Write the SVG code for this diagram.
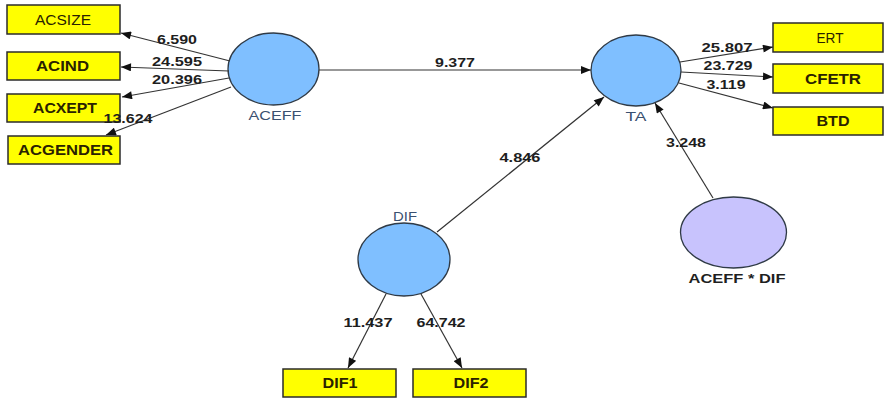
<svg xmlns="http://www.w3.org/2000/svg" width="885" height="403" viewBox="0 0 885 403">
  <style>
    .ind rect { fill: #ffff00; stroke: #2b2b2b; stroke-width: 1.5; }
    .ind text { font-family: "Liberation Sans", Arial, sans-serif; font-size: 14px; fill: #2a2200; text-anchor: middle; }
    .ind text.b { font-weight: bold; }
    .lv ellipse { fill: #7fbfff; stroke: #2f3a46; stroke-width: 1.3; }
    .lv ellipse.mod { fill: #c8c3fd; }
    .lv text { font-family: "Liberation Sans", Arial, sans-serif; font-size: 13px; fill: #3a5070; text-anchor: middle; }
    .lv text.b { font-weight: bold; fill: #1f1f1f; }
    #connectors line { stroke: #333; stroke-width: 1.2; marker-end: url(#arr); }
    #connectors text { font-family: "Liberation Sans", Arial, sans-serif; font-size: 13.5px; font-weight: bold; fill: #1e1e1e; text-anchor: middle; }
  </style>
  <defs>
    <marker id="arr" viewBox="0 0 10 8" refX="10" refY="4" markerWidth="11" markerHeight="8" markerUnits="userSpaceOnUse" orient="auto">
      <path d="M0,0 L10,4 L0,8 z" fill="#111"/>
    </marker>
  </defs>

  <rect width="885" height="403" fill="#ffffff"/>

  <!-- latent variables -->
  <g id="ACEFF" class="lv">
    <ellipse cx="273.5" cy="69" rx="45.5" ry="36"/>
    <text x="275" y="120" textLength="53" lengthAdjust="spacingAndGlyphs">ACEFF</text>
  </g>
  <g id="TA" class="lv">
    <ellipse cx="636" cy="70.5" rx="45" ry="35.5"/>
    <text x="636" y="121" textLength="21" lengthAdjust="spacingAndGlyphs">TA</text>
  </g>
  <g id="DIF" class="lv">
    <ellipse cx="404" cy="259.5" rx="46" ry="36.5"/>
    <text x="405" y="221" textLength="24" lengthAdjust="spacingAndGlyphs">DIF</text>
  </g>
  <g id="ACEFF_DIF" class="lv">
    <ellipse class="mod" cx="733.5" cy="232.5" rx="53" ry="35.5"/>
    <text class="b" x="737" y="283" textLength="97" lengthAdjust="spacingAndGlyphs">ACEFF * DIF</text>
  </g>

  <!-- indicators -->
  <g id="ACSIZE" class="ind">
    <rect x="7" y="5" width="113" height="29"/>
    <text x="63" y="24.5" textLength="56" lengthAdjust="spacingAndGlyphs">ACSIZE</text>
  </g>
  <g id="ACIND" class="ind">
    <rect x="7" y="52" width="113" height="28"/>
    <text class="b" x="62.5" y="71" textLength="53" lengthAdjust="spacingAndGlyphs">ACIND</text>
  </g>
  <g id="ACXEPT" class="ind">
    <rect x="7" y="94" width="113" height="28"/>
    <text class="b" x="65" y="113" textLength="64" lengthAdjust="spacingAndGlyphs">ACXEPT</text>
  </g>
  <g id="ACGENDER" class="ind">
    <rect x="8" y="136" width="112" height="28"/>
    <text class="b" x="65.5" y="155" textLength="95" lengthAdjust="spacingAndGlyphs">ACGENDER</text>
  </g>
  <g id="ERT" class="ind">
    <rect x="773" y="23" width="110" height="29"/>
    <text x="830" y="42.5" textLength="27" lengthAdjust="spacingAndGlyphs">ERT</text>
  </g>
  <g id="CFETR" class="ind">
    <rect x="773" y="64" width="110" height="29"/>
    <text class="b" x="833" y="83.5" textLength="56" lengthAdjust="spacingAndGlyphs">CFETR</text>
  </g>
  <g id="BTD" class="ind">
    <rect x="773" y="107" width="110" height="28"/>
    <text class="b" x="833" y="126" textLength="33" lengthAdjust="spacingAndGlyphs">BTD</text>
  </g>
  <g id="DIF1" class="ind">
    <rect x="283" y="369" width="113" height="28"/>
    <text class="b" x="340" y="388" textLength="35" lengthAdjust="spacingAndGlyphs">DIF1</text>
  </g>
  <g id="DIF2" class="ind">
    <rect x="413" y="369" width="113" height="28"/>
    <text class="b" x="471" y="388" textLength="35" lengthAdjust="spacingAndGlyphs">DIF2</text>
  </g>

  <!-- connectors with path coefficients, drawn last so labels sit on top -->
  <g id="connectors">
    <line x1="230" y1="61" x2="121" y2="33"/>
    <line x1="229" y1="71" x2="121" y2="67"/>
    <line x1="229" y1="78" x2="122" y2="97"/>
    <line x1="231" y1="87" x2="106" y2="135"/>
    <line x1="319" y1="70" x2="591" y2="70"/>
    <line x1="680" y1="62" x2="773" y2="47"/>
    <line x1="681" y1="72" x2="773" y2="77"/>
    <line x1="679" y1="83" x2="773" y2="108"/>
    <line x1="437" y1="232" x2="604" y2="97"/>
    <line x1="713" y1="198" x2="655" y2="103"/>
    <line x1="386" y1="294" x2="348" y2="368"/>
    <line x1="421" y1="294" x2="462" y2="368"/>

    <text x="177" y="44" textLength="40" lengthAdjust="spacingAndGlyphs">6.590</text>
    <text x="177" y="66" textLength="50" lengthAdjust="spacingAndGlyphs">24.595</text>
    <text x="177" y="84" textLength="50" lengthAdjust="spacingAndGlyphs">20.396</text>
    <text x="128" y="123" textLength="49" lengthAdjust="spacingAndGlyphs">13.624</text>
    <text x="455" y="67" textLength="40" lengthAdjust="spacingAndGlyphs">9.377</text>
    <text x="727" y="52" textLength="51" lengthAdjust="spacingAndGlyphs">25.807</text>
    <text x="728" y="70" textLength="49" lengthAdjust="spacingAndGlyphs">23.729</text>
    <text x="726" y="89" textLength="39" lengthAdjust="spacingAndGlyphs">3.119</text>
    <text x="686" y="147" textLength="40" lengthAdjust="spacingAndGlyphs">3.248</text>
    <text x="520" y="162" textLength="41" lengthAdjust="spacingAndGlyphs">4.846</text>
    <text x="368" y="327" textLength="49" lengthAdjust="spacingAndGlyphs">11.437</text>
    <text x="441" y="327" textLength="49" lengthAdjust="spacingAndGlyphs">64.742</text>
  </g>
</svg>
